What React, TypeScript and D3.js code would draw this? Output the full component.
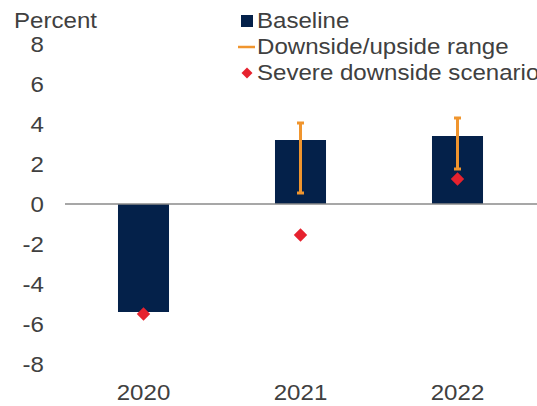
import * as d3 from "d3";
import { useEffect, useRef } from "react";

const years = ["2020", "2021", "2022"];
const baseline = [-5.4, 3.2, 3.4];
const rangeLow: (number | null)[] = [null, 0.55, 1.75];
const rangeHigh: (number | null)[] = [null, 4.05, 4.3];
const severe = [-5.5, -1.55, 1.25];
const yTicks = [-8, -6, -4, -2, 0, 2, 4, 6, 8];

const legendItems = ["Baseline", "Downside/upside range", "Severe downside scenario"];

export default function App() {
  const svgRef = useRef<SVGSVGElement>(null);
  const width = 537;
  const height = 406;

  useEffect(() => {
    if (!svgRef.current) return;
    const svg = d3.select(svgRef.current);
    svg.selectAll("*").remove();

    const font = "'Liberation Sans', Arial, sans-serif";
    const fontSize = "22.5px";
    const stretch = 1.07; // the source text is a little wider than Arial
    const textColor = "#404040";
    const navy = "#04214a";
    const orange = "#f0952e";
    const red = "#e6222e";

    const place = (tx: number, ty: number) =>
      `translate(${tx},${ty}) scale(${stretch},1)`;

    const x = d3
      .scaleBand()
      .domain(years)
      .range([65, 536])
      .paddingInner(0.675)
      .paddingOuter(0.3375);

    const y = d3.scaleLinear().domain([-8, 8]).range([364, 44]);

    // y tick labels (no axis line)
    svg
      .append("g")
      .selectAll("text")
      .data(yTicks)
      .enter()
      .append("text")
      .attr("transform", (d) => place(44, y(d)))
      .attr("dy", "0.36em")
      .attr("text-anchor", "end")
      .style("font-family", font)
      .style("font-size", fontSize)
      .style("fill", textColor)
      .text((d) => d);

    svg
      .append("text")
      .attr("transform", place(14, 28))
      .style("font-family", font)
      .style("font-size", fontSize)
      .style("fill", textColor)
      .text("Percent");

    // Bars
    svg
      .append("g")
      .selectAll("rect")
      .data(baseline)
      .enter()
      .append("rect")
      .attr("x", (_, i) => x(years[i])!)
      .attr("width", x.bandwidth())
      .attr("y", (d) => y(Math.max(0, d)))
      .attr("height", (d) => Math.abs(y(d) - y(0)))
      .style("fill", navy);

    // Zero line
    svg
      .append("line")
      .attr("x1", 65)
      .attr("x2", width)
      .attr("y1", y(0))
      .attr("y2", y(0))
      .style("stroke", "#8a8a8a")
      .style("stroke-width", 1.5);

    // Range whiskers
    const rangeG = svg.append("g");
    years.forEach((yr, i) => {
      const lo = rangeLow[i];
      const hi = rangeHigh[i];
      if (lo == null || hi == null) return;
      const cx = x(yr)! + x.bandwidth() / 2;
      rangeG
        .append("line")
        .attr("x1", cx)
        .attr("x2", cx)
        .attr("y1", y(hi))
        .attr("y2", y(lo))
        .style("stroke", orange)
        .style("stroke-width", 3);
      [lo, hi].forEach((v) => {
        rangeG
          .append("rect")
          .attr("x", cx - 3.5)
          .attr("y", y(v) - 1.5)
          .attr("width", 7)
          .attr("height", 3)
          .style("fill", orange);
      });
    });

    // Severe scenario diamonds
    const diamond = d3.symbol(d3.symbolSquare, 90);
    svg
      .append("g")
      .selectAll("path")
      .data(severe)
      .enter()
      .append("path")
      .attr("d", diamond)
      .attr(
        "transform",
        (d, i) => `translate(${x(years[i])! + x.bandwidth() / 2},${y(d)}) rotate(45)`,
      )
      .style("fill", red);

    // Category labels
    svg
      .append("g")
      .selectAll("text")
      .data(years)
      .enter()
      .append("text")
      .attr("transform", (d) => place(x(d)! + x.bandwidth() / 2, 400))
      .attr("text-anchor", "middle")
      .style("font-family", font)
      .style("font-size", fontSize)
      .style("fill", textColor)
      .text((d) => d);

    // Legend
    const legend = svg.append("g");
    const rowY = [28, 54, 80];
    legend
      .append("rect")
      .attr("x", 241)
      .attr("y", rowY[0] - 13)
      .attr("width", 12)
      .attr("height", 12)
      .style("fill", navy);
    legend
      .append("line")
      .attr("x1", 238)
      .attr("x2", 255)
      .attr("y1", rowY[1] - 7)
      .attr("y2", rowY[1] - 7)
      .style("stroke", orange)
      .style("stroke-width", 2.5);
    legend
      .append("path")
      .attr("d", d3.symbol(d3.symbolSquare, 60)())
      .attr("transform", `translate(247,${rowY[2] - 7}) rotate(45)`)
      .style("fill", red);
    legend
      .selectAll("text")
      .data(legendItems)
      .enter()
      .append("text")
      .attr("transform", (_, i) => place(257, rowY[i]))
      .style("font-family", font)
      .style("font-size", fontSize)
      .style("fill", textColor)
      .text((d) => d);
  }, []);

  return (
    <svg
      ref={svgRef}
      width={width}
      height={height}
      style={{ position: "absolute", left: 0, top: 0, background: "#fff" }}
    />
  );
}
